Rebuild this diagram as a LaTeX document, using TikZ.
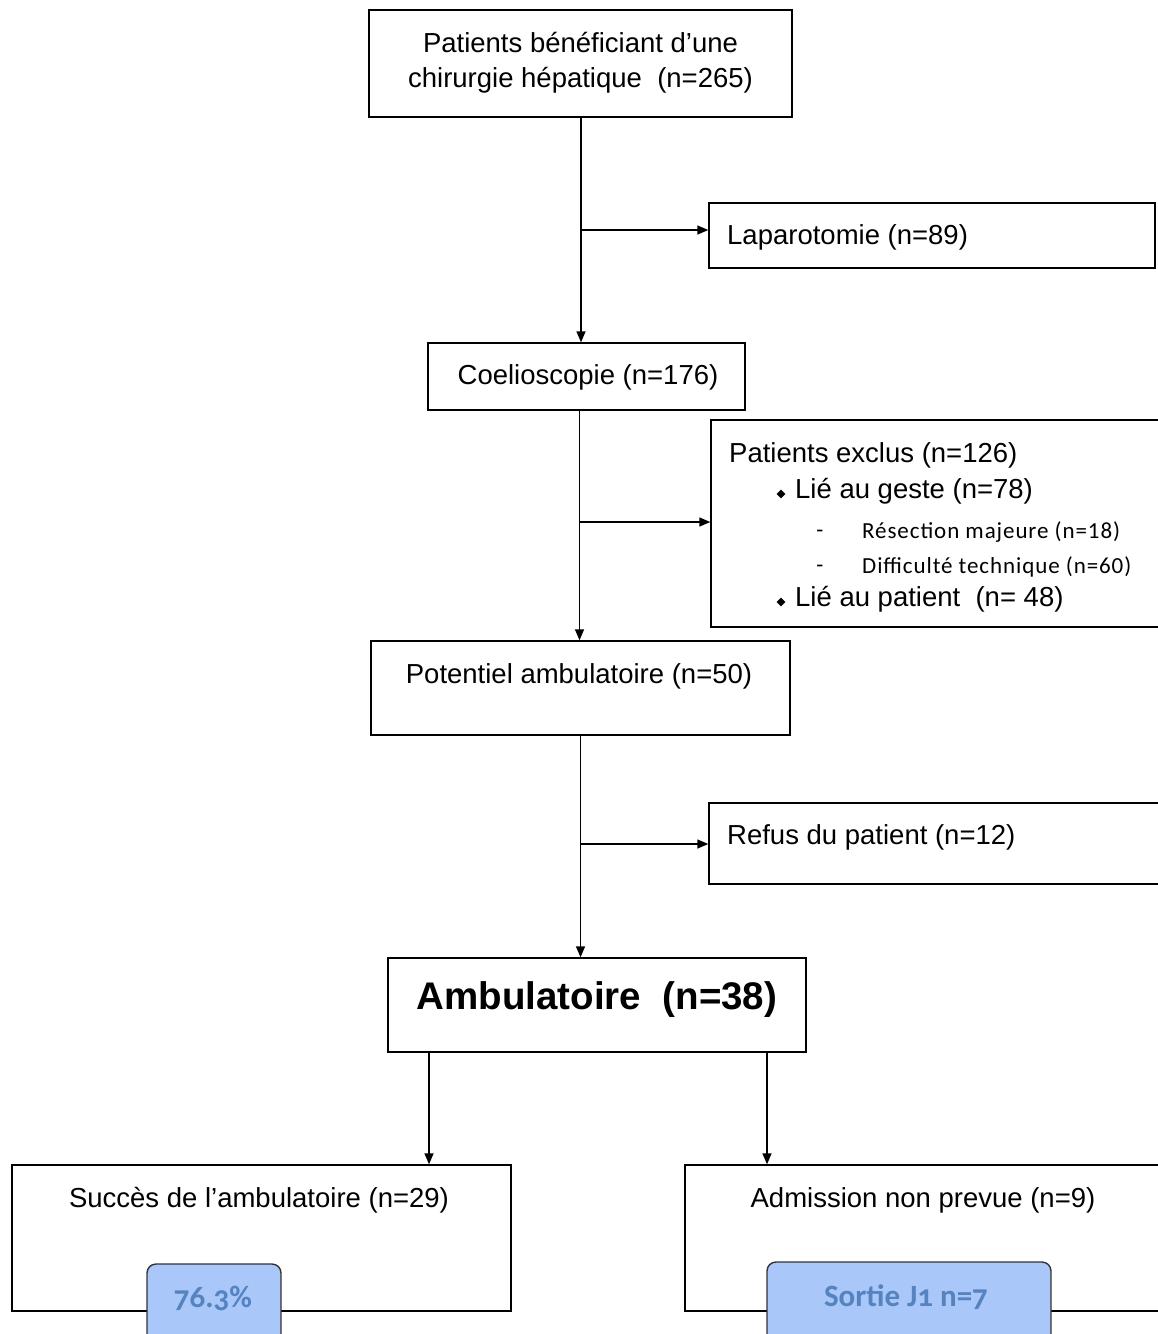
\documentclass[tikz,border=0pt]{standalone}
\usepackage{fontspec}
\setmainfont{Liberation Sans}
\newfontfamily\calfont[LetterSpace=4]{Carlito}
\newfontfamily\calold[Numbers=OldStyle]{Carlito}
\usetikzlibrary{arrows.meta,shapes.geometric}
\definecolor{bluefill}{RGB}{169,199,248}
\definecolor{bluetext}{RGB}{84,131,192}
\begin{document}
\begin{tikzpicture}[x=1pt,y=-1pt,
  box/.style={draw=black,line width=1.4pt,rectangle,inner sep=0pt,fill=white,minimum width=#1},
  bluebox/.style={draw=black!80,line width=1.4pt,rectangle,rounded corners=9pt,inner sep=0pt,fill=bluefill},
  txt/.style={inner sep=0pt,font=\fontsize{27.5}{35}\selectfont},
  smalltxt/.style={inner sep=0pt,font=\calfont\fontsize{23}{26}\selectfont},
  bluetxt/.style={inner sep=0pt,text=bluetext,font=\calold\bfseries\fontsize{31}{36}\selectfont},
  bullet/.style={diamond,fill=black,inner sep=0pt,minimum size=9pt},
  conn/.style={line width=1.4pt,-{Triangle[length=11pt,width=9pt]}}]
\useasboundingbox (0,0) rectangle (1158,1334);
\clip (0,0) rectangle (1158,1334);
\fill[white] (0,0) rectangle (1158,1334);

% boxes
\node[box=423pt,minimum height=107pt] (b1) at (580.5,63.5) {};
\node[box=446pt,minimum height=65pt] (lap) at (932,235.5) {};
\node[box=317pt,minimum height=67pt] (coel) at (586.5,376.5) {};
\node[box=459pt,minimum height=207pt] (excl) at (940.5,523.5) {};
\node[box=419pt,minimum height=94pt] (pot) at (580.5,688) {};
\node[box=461pt,minimum height=81pt] (ref) at (939.5,843.5) {};
\node[box=418pt,minimum height=94pt] (amb) at (597,1005) {};
\node[box=499pt,minimum height=146pt] (succ) at (261.5,1238) {};
\node[box=485pt,minimum height=146pt] (adm) at (927.5,1238) {};
\node[bluebox,minimum width=134pt,minimum height=81pt] (bl1) at (214,1304.5) {};
\node[bluebox,minimum width=284pt,minimum height=83pt] (bl2) at (909,1303.5) {};

% texts
\node[txt,align=center] (t1) at (580.5,62.5) {Patients bénéficiant d’une\\chirurgie hépatique\ \ (n=265)};
\node[txt,anchor=west] (tlap) at (727,237.5) {Laparotomie (n=89)};
\node[txt] (tcoel) at (588,377.5) {Coelioscopie (n=176)};
\node[txt,anchor=west] (tex) at (729,455.5) {Patients exclus (n=126)};
\node[bullet] (bu1) at (781,494) {};
\node[txt,anchor=west] (tg) at (795,491.5) {Lié au geste (n=78)};
\node[smalltxt] (d1) at (820,534) {-};
\node[smalltxt,anchor=west] (tres) at (862,532) {Résection majeure (n=18)};
\node[smalltxt] (d2) at (820,569) {-};
\node[smalltxt,anchor=west] (tdif) at (862,567) {Difficulté technique (n=60)};
\node[bullet] (bu2) at (781,602) {};
\node[txt,anchor=west] (tpa) at (795,599.5) {Lié au patient\ \ (n= 48)};
\node[txt] (tpot) at (579,676.5) {Potentiel ambulatoire (n=50)};
\node[txt,anchor=west] (tref) at (727,837.5) {Refus du patient (n=12)};
\node[inner sep=0pt,font=\bfseries\fontsize{38.5}{42}\selectfont] (tamb) at (597,999.5) {Ambulatoire\ \ (n=38)};
\node[txt] (tsuc) at (259,1200.5) {Succès de l’ambulatoire (n=29)};
\node[txt] (tadm) at (923,1200.5) {Admission non prevue (n=9)};
\node[bluetxt] (tbl1) at (213,1298) {76.3\%};
\node[bluetxt] (tbl2) at (906,1297) {Sortie J1 n=7};

% connectors
\draw[conn] (b1.south -| 581,0) -- (coel.north -| 581,0);
\coordinate (j1) at (581,230);
\draw[conn] (j1) -- (j1 -| lap.west);
\draw[conn] (coel.south -| 579.5,0) -- (pot.north -| 579.5,0);
\coordinate (j2) at (579.5,522);
\draw[conn] (j2) -- (j2 -| excl.west);
\draw[conn] (pot.south -| 580.5,0) -- (amb.north -| 580.5,0);
\coordinate (j3) at (580.5,844);
\draw[conn] (j3) -- (j3 -| ref.west);
\draw[conn] (amb.south -| 429,0) -- (succ.north -| 429,0);
\draw[conn] (amb.south -| 767,0) -- (adm.north -| 767,0);
\end{tikzpicture}
\end{document}
